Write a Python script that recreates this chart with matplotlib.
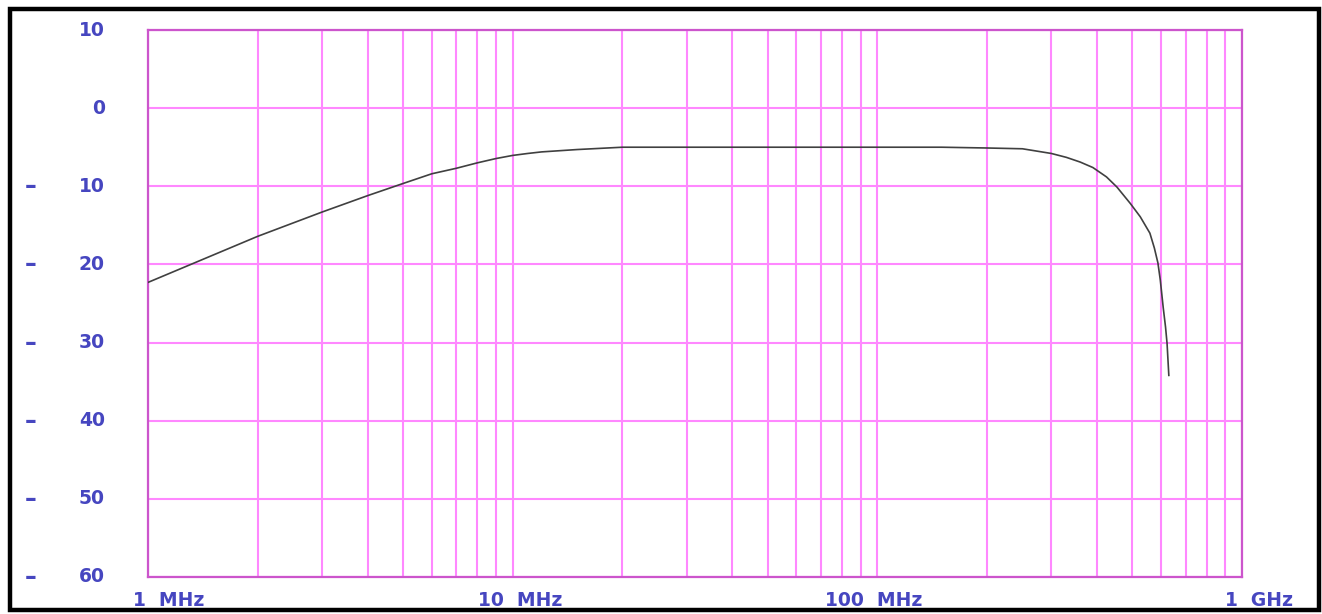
import matplotlib
matplotlib.use("Agg")
import matplotlib.pyplot as plt
import matplotlib.transforms as mtransforms
from matplotlib.patches import Rectangle

# ---- data ----
freq_mhz = [1, 2, 3, 4, 5, 6, 7, 8, 9, 10, 11, 12, 15, 20, 30, 50, 100, 150, 200,
            250, 300, 330, 360, 390, 425, 454, 494, 526, 559, 575, 588, 597, 608,
            617, 623, 630]
gain_db = [-22.3, -16.4, -13.3, -11.2, -9.65, -8.4, -7.7, -7.0, -6.45, -6.05, -5.8,
           -5.6, -5.3, -5.0, -5.0, -5.0, -5.0, -5.0, -5.1, -5.2, -5.8, -6.3,
           -6.9, -7.6, -8.8, -10.1, -12.2, -13.9, -16.0, -17.9, -19.8, -22.0,
           -25.5, -28.0, -30.1, -34.2]

y_ticks = [10, 0, -10, -20, -30, -40, -50, -60]
x_ticks = [1, 10, 100, 1000]
x_tick_labels = ["1  MHz", "10  MHz", "100  MHz", "1  GHz"]
x_label_offsets_px = [-15, -35, -52, -17]  # left-edge offset from tick

# ---- style ----
label_color = "#4646c0"
grid_color = "#ff88ff"
spine_color = "#cc55cc"

fig = plt.figure(figsize=(13.22, 6.14), dpi=100)
ax = fig.add_axes([148 / 1322, 1 - 577 / 614, 1094 / 1322, 547 / 614])
ax.set_xscale("log")
ax.set_xlim(1, 1000)
ax.set_ylim(-60, 10)

ax.set_yticks(y_ticks)
ax.set_xticks(x_ticks)
ax.set_xticks([m * d for d in (1, 10, 100) for m in range(2, 10)], minor=True)
ax.grid(True, which="both", axis="x", color=grid_color, lw=1.5)
ax.grid(True, which="major", axis="y", color=grid_color, lw=1.5)
ax.tick_params(which="both", length=0, labelleft=False, labelbottom=False)
ax.set_axisbelow(True)
for s in ax.spines.values():
    s.set_color(spine_color)
    s.set_linewidth(1.6)

ax.plot(freq_mhz, gain_db, color="#404040", lw=1.2, zorder=3)

fkw = dict(color=label_color, fontweight="bold", fontsize=13.5, family="DejaVu Sans")

# y labels
ytrans = mtransforms.blended_transform_factory(fig.transFigure, ax.transData)
for v in y_ticks:
    ax.text(105 / 1322, v, str(abs(v)), transform=ytrans, ha="right", va="center", **fkw)
    if v < 0:
        ax.text(31 / 1322, v, "\u2013", transform=ytrans, ha="center", va="center",
                color=label_color, fontweight="bold", fontsize=17, family="DejaVu Sans")

# x labels
for xv, lab, off in zip(x_ticks, x_tick_labels, x_label_offsets_px):
    ax.annotate(lab, xy=(xv, -60), xycoords="data", xytext=(off * 0.72, -23 * 0.72),
                textcoords="offset points", ha="left", va="center",
                annotation_clip=False, **fkw)

# outer black frame
fig.patches.append(Rectangle((9.5 / 1322, 1 - 610 / 614), 1309 / 1322, 601 / 614,
                             transform=fig.transFigure, fill=False,
                             edgecolor="black", lw=3.2))

fig.savefig("out.png", dpi=100)
